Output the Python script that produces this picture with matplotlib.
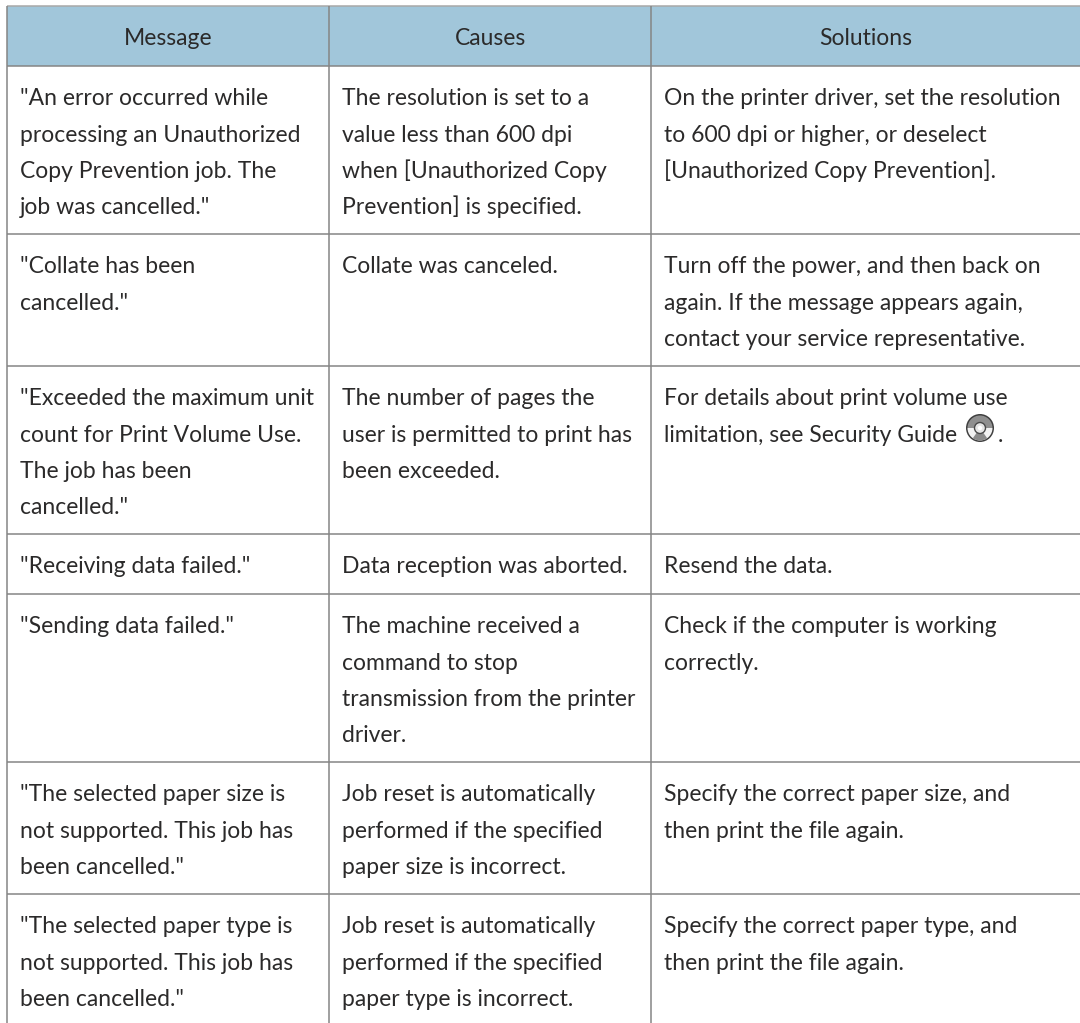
import matplotlib
matplotlib.use('Agg')
import matplotlib.pyplot as plt
from matplotlib.patches import Rectangle, Circle, Wedge

plt.rcParams['font.family'] = ['Lato', 'DejaVu Sans']

headers = ['Message', 'Causes', 'Solutions']

messages = [
    ['"An error occurred while', 'processing an Unauthorized', 'Copy Prevention job. The', 'job was cancelled."'],
    ['"Collate has been', 'cancelled."'],
    ['"Exceeded the maximum unit', 'count for Print Volume Use.', 'The job has been', 'cancelled."'],
    ['"Receiving data failed."'],
    ['"Sending data failed."'],
    ['"The selected paper size is', 'not supported. This job has', 'been cancelled."'],
    ['"The selected paper type is', 'not supported. This job has', 'been cancelled."'],
]
causes = [
    ['The resolution is set to a', 'value less than 600 dpi', 'when [Unauthorized Copy', 'Prevention] is specified.'],
    ['Collate was canceled.'],
    ['The number of pages the', 'user is permitted to print has', 'been exceeded.'],
    ['Data reception was aborted.'],
    ['The machine received a', 'command to stop', 'transmission from the printer', 'driver.'],
    ['Job reset is automatically', 'performed if the specified', 'paper size is incorrect.'],
    ['Job reset is automatically', 'performed if the specified', 'paper type is incorrect.'],
]
solutions = [
    ['On the printer driver, set the resolution', 'to 600 dpi or higher, or deselect', '[Unauthorized Copy Prevention].'],
    ['Turn off the power, and then back on', 'again. If the message appears again,', 'contact your service representative.'],
    ['For details about print volume use', 'limitation, see Security Guide'],
    ['Resend the data.'],
    ['Check if the computer is working', 'correctly.'],
    ['Specify the correct paper size, and', 'then print the file again.'],
    ['Specify the correct paper type, and', 'then print the file again.'],
]

# table geometry in pixels
col_lines = [7, 329, 651]
row_lines = [66, 234, 366, 534, 594, 762, 894]
top = 6
width = 1080
height = 1023
line_gap = 36.5
first_base = 39
pad = 13
fsize = 16.5
text_col = '#2b2a2a'
rule_col = '#858585'

fig = plt.figure(figsize=(10.8, 10.23), dpi=100)
ax = fig.add_axes([0, 0, 1, 1])
ax.set_xlim(0, width)
ax.set_ylim(height, 0)
ax.axis('off')

ax.add_patch(Rectangle((col_lines[0], top), width - col_lines[0], row_lines[0] - top, fc='#a1c6da', ec='none'))
ax.hlines([top], col_lines[0], width, color='#a8a8a8', lw=1.1)
ax.hlines(row_lines, col_lines[0], width, color=rule_col, lw=1.1)
ax.vlines(col_lines, top, height, color=rule_col, lw=1.1)

col_right = col_lines[1:] + [width + 1]
for i, name in enumerate(headers):
    ax.text((col_lines[i] + col_right[i]) / 2, 45, name, ha='center', va='baseline', fontsize=fsize, color=text_col)

for i, column in enumerate([messages, causes, solutions]):
    for r, cell in enumerate(column):
        for k, line in enumerate(cell):
            y = row_lines[r] + first_base + k * line_gap
            ax.text(col_lines[i] + pad, y, line, ha='left', va='baseline', fontsize=fsize, color=text_col)

# disc icon after "Security Guide", then the full stop
cx = 980
cy = 428
ax.add_patch(Circle((cx, cy), 14, fc='#3f3f3f', ec='none'))
ax.add_patch(Wedge((cx, cy), 12.5, 0, 180, fc='#f2f2f2', ec='none'))
ax.add_patch(Wedge((cx, cy), 12.5, 180, 360, fc='#8f8f8f', ec='none'))
ax.add_patch(Wedge((cx, cy), 12.5, 55, 125, fc='#8a8a8a', ec='none'))
ax.add_patch(Circle((cx, cy), 5.5, fc='#e6e6e6', ec='#4a4a4a', lw=1.0))
ax.add_patch(Circle((cx, cy), 2.2, fc='white', ec='none'))
ax.text(cx + 18, row_lines[2] + first_base + line_gap, '.', ha='left', va='baseline', fontsize=fsize, color=text_col)

fig.savefig('out.png', dpi=100)
